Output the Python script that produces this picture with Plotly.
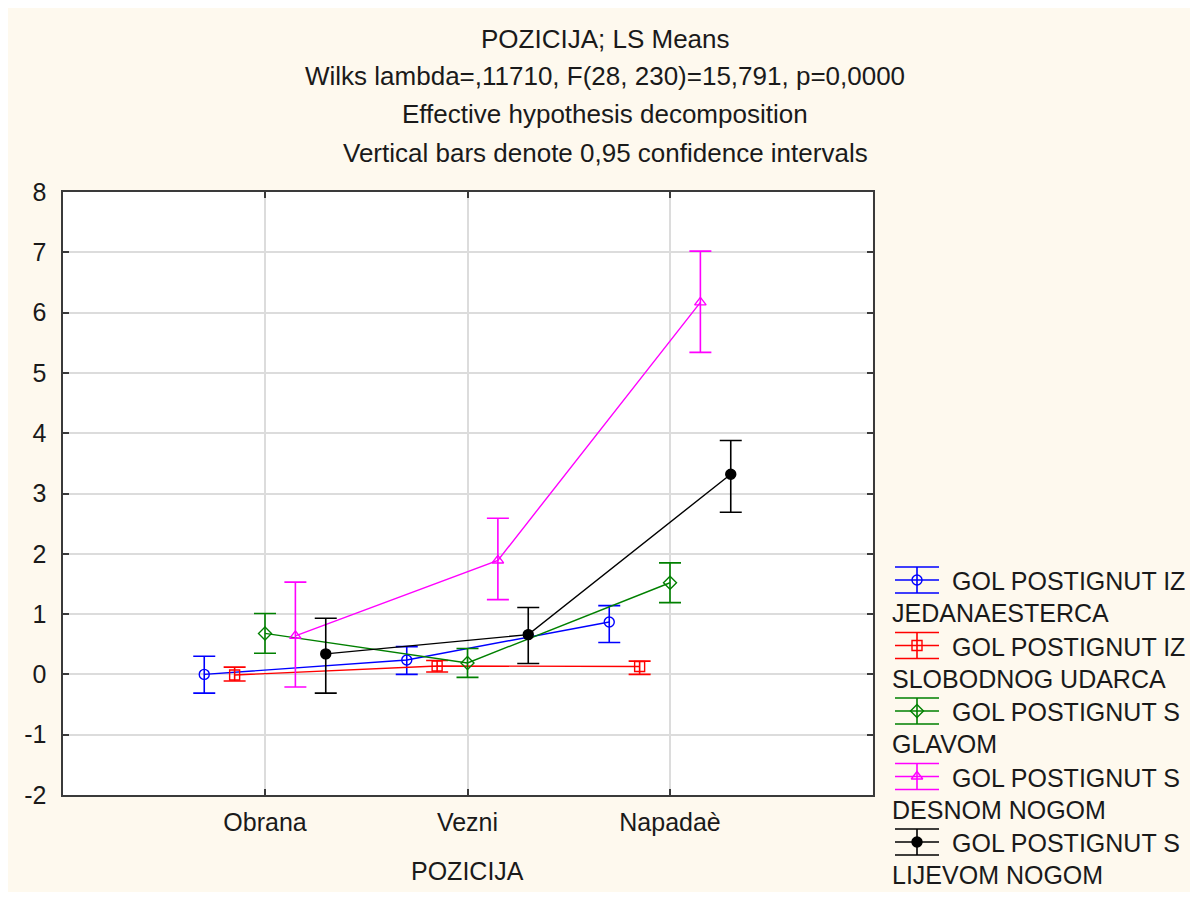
import plotly.graph_objects as go

# ---------------- data ----------------
categories = ["Obrana", "Vezni", "Napadaè"]
series_names = [
    ("GOL POSTIGNUT IZ", "JEDANAESTERCA"),
    ("GOL POSTIGNUT IZ", "SLOBODNOG UDARCA"),
    ("GOL POSTIGNUT S", "GLAVOM"),
    ("GOL POSTIGNUT S", "DESNOM NOGOM"),
    ("GOL POSTIGNUT S", "LIJEVOM NOGOM"),
]
jedanaesterca_mean = [0.00, 0.24, 0.87]
jedanaesterca_low = [-0.31, 0.00, 0.53]
jedanaesterca_high = [0.30, 0.46, 1.14]

slobodni_mean = [-0.01, 0.14, 0.13]
slobodni_low = [-0.11, 0.04, 0.00]
slobodni_high = [0.12, 0.23, 0.22]

glava_mean = [0.68, 0.19, 1.52]
glava_low = [0.35, -0.05, 1.19]
glava_high = [1.01, 0.43, 1.85]

desna_mean = [0.64, 1.89, 6.17]
desna_low = [-0.21, 1.24, 5.34]
desna_high = [1.53, 2.59, 7.02]

lijeva_mean = [0.34, 0.66, 3.32]
lijeva_low = [-0.31, 0.18, 2.69]
lijeva_high = [0.93, 1.11, 3.88]

y_ticks = [-2, -1, 0, 1, 2, 3, 4, 5, 6, 7, 8]
title_lines = [
    "POZICIJA; LS Means",
    "Wilks lambda=,11710, F(28, 230)=15,791, p=0,0000",
    "Effective hypothesis decomposition",
    "Vertical bars denote 0,95 confidence intervals",
]
x_title = "POZICIJA"

# ---------------- style ----------------
OX, OY = 8, 8            # page body margin
W, H = 1188, 884         # figure size (page pixels 8..1196, 8..892)
FONT = "Liberation Sans, Arial, sans-serif"
FS_TITLE = 26
FS = 25
TXT = "#1a1a1a"
colors = ["#0000FF", "#FF0000", "#008000", "#FF00FF", "#000000"]
symbols = ["circle-open", "square-open", "diamond-open", "triangle-up-open", "circle"]
offsets = [-0.30, -0.15, 0.0, 0.15, 0.30]
series = [
    (jedanaesterca_mean, jedanaesterca_low, jedanaesterca_high),
    (slobodni_mean, slobodni_low, slobodni_high),
    (glava_mean, glava_low, glava_high),
    (desna_mean, desna_low, desna_high),
    (lijeva_mean, lijeva_low, lijeva_high),
]

# plot area in page pixels -> figure pixels
PL, PR, PT, PB = 62.5 - OX, 872.5 - OX, 192 - OY, 795 - OY

fig = go.Figure()

xpos = list(range(1, len(categories) + 1))
for i, (m, lo, hi) in enumerate(series):
    xs = [p + offsets[i] for p in xpos]
    fig.add_trace(go.Scatter(
        x=xs, y=m, mode="lines+markers",
        line=dict(color=colors[i], width=1.4),
        marker=dict(symbol=symbols[i], size=10, color=colors[i],
                    line=dict(color=colors[i], width=1.4)),
        error_y=dict(type="data", symmetric=False,
                     array=[h - v for h, v in zip(hi, m)],
                     arrayminus=[v - l for v, l in zip(m, lo)],
                     color=colors[i], thickness=1.6, width=11),
        showlegend=False, xaxis="x", yaxis="y",
    ))

# legend drawn on a pixel overlay axis (page pixel coordinates)
leg_x0, leg_x1 = 895, 939
leg_cx = (leg_x0 + leg_x1) / 2
for i, (l1, l2) in enumerate(series_names):
    cy = 580 + 65.5 * i
    fig.add_trace(go.Scatter(
        x=[leg_x0, leg_x1], y=[cy, cy], mode="lines",
        line=dict(color=colors[i], width=1.4),
        showlegend=False, xaxis="x2", yaxis="y2", hoverinfo="skip"))
    fig.add_trace(go.Scatter(
        x=[leg_cx], y=[cy], mode="markers",
        marker=dict(symbol=symbols[i], size=10, color=colors[i],
                    line=dict(color=colors[i], width=1.4)),
        error_y=dict(type="constant", value=13, color=colors[i],
                     thickness=1.6, width=22),
        showlegend=False, xaxis="x2", yaxis="y2", hoverinfo="skip"))
    fig.add_annotation(x=950, y=cy + 1, xref="x2", yref="y2", text=l1,
                       showarrow=False, xanchor="left", yanchor="middle",
                       font=dict(family=FONT, size=FS, color=TXT))
    fig.add_annotation(x=890, y=cy + 33, xref="x2", yref="y2", text=l2,
                       showarrow=False, xanchor="left", yanchor="middle",
                       font=dict(family=FONT, size=FS, color=TXT))

for t, yy in zip(title_lines, [39, 76, 114, 153]):
    fig.add_annotation(x=605, y=yy, xref="x2", yref="y2", text=t,
                       showarrow=False, xanchor="center", yanchor="middle",
                       font=dict(family=FONT, size=FS_TITLE, color=TXT))

fig.add_annotation(x=467, y=871, xref="x2", yref="y2", text=x_title,
                   showarrow=False, xanchor="center", yanchor="middle",
                   font=dict(family=FONT, size=FS, color=TXT))

# white plot area
fig.add_shape(type="rect", xref="x domain", yref="y domain",
              x0=0, x1=1, y0=0, y1=1,
              fillcolor="#FFFFFF", line=dict(width=0), layer="below")

axis_line = "#3a3a3a"
fig.update_layout(
    width=W, height=H,
    margin=dict(l=0, r=0, t=0, b=0, autoexpand=False),
    paper_bgcolor="#FEF9EE", plot_bgcolor="rgba(0,0,0,0)",
    font=dict(family=FONT, size=FS, color=TXT),
    showlegend=False,
    xaxis=dict(domain=[PL / W, PR / W], range=[0, 4], automargin=False,
               tickvals=xpos, ticktext=categories,
               showgrid=True, gridcolor="#DCDCDC", gridwidth=1.5,
               zeroline=False, showline=True, linecolor=axis_line, linewidth=2,
               mirror="ticks", ticks="inside", ticklen=6, tickcolor=axis_line,
               tickwidth=1.5, tickfont=dict(family=FONT, size=FS, color=TXT),
               ticklabelstandoff=4),
    yaxis=dict(domain=[1 - PB / H, 1 - PT / H], range=[-2, 8], automargin=False,
               tickvals=y_ticks, ticktext=[str(v) for v in y_ticks],
               showgrid=True, gridcolor="#DCDCDC", gridwidth=1.5,
               zeroline=False, showline=True, linecolor=axis_line, linewidth=2,
               mirror="ticks", ticks="inside", ticklen=6, tickcolor=axis_line,
               tickwidth=1.5, tickfont=dict(family=FONT, size=FS, color=TXT),
               ticklabelstandoff=9),
    # overlay axis in page-pixel units (page x = OX + figure x)
    xaxis2=dict(domain=[0, 1], range=[OX, OX + W], visible=False,
                fixedrange=True, automargin=False),
    yaxis2=dict(domain=[0, 1], range=[OY + H, OY], visible=False,
                fixedrange=True, automargin=False),
)

fig.write_html("out.html")
